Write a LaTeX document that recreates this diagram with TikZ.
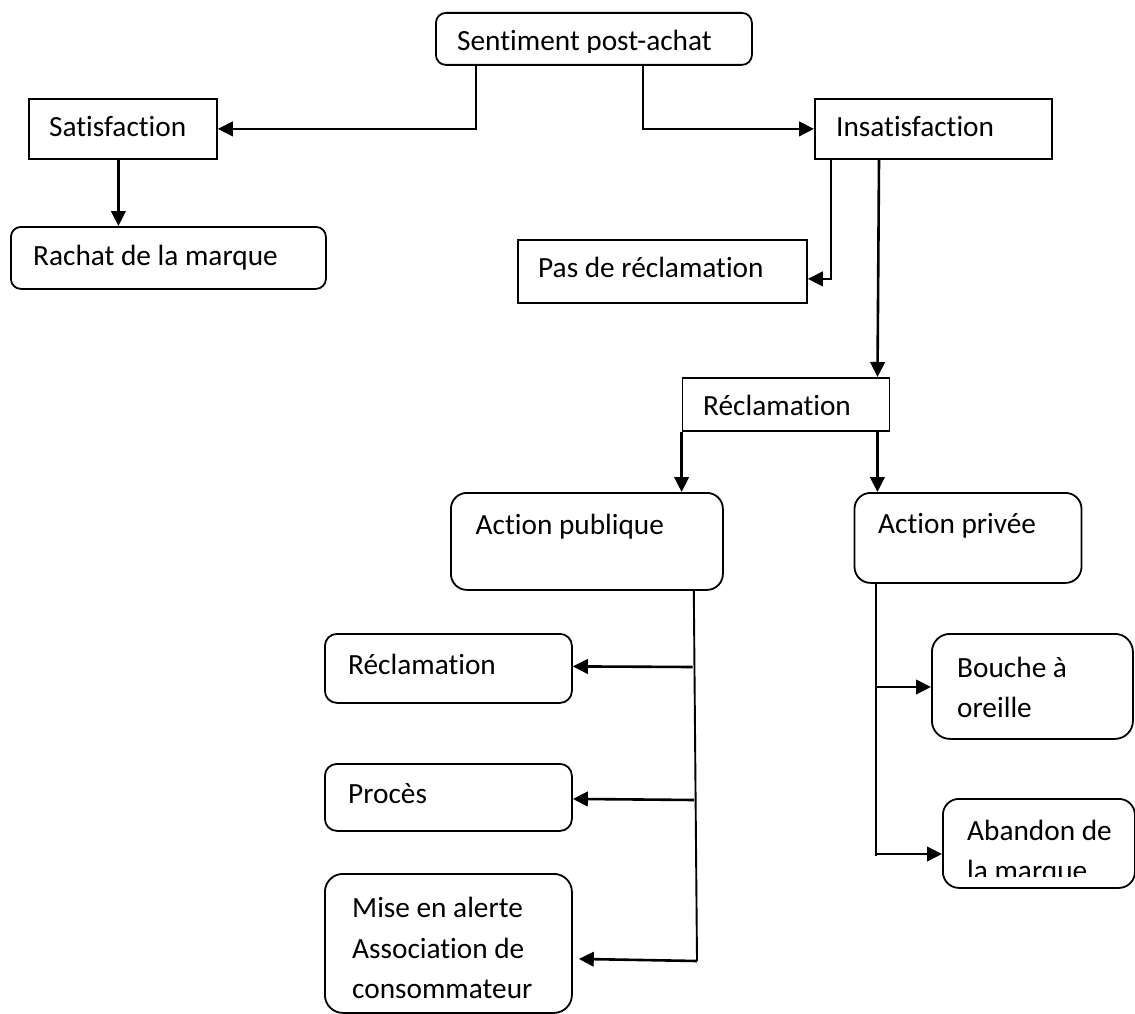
\documentclass[tikz,border=0pt]{standalone}
\usepackage{fontspec}
\setmainfont{Carlito}[Ligatures=NoCommon]
\usetikzlibrary{arrows.meta}
\tikzset{
  boxbase/.style={draw=black, line width=1.8pt, inner sep=0pt, anchor=north west, fill=white},
  sqbox/.style={boxbase},
  rbox/.style={boxbase, rounded corners=#1},
  lbl/.style={inner sep=0pt, anchor=base west, font=\fontsize{29.3}{40}\selectfont},
  arr/.style={draw=black, line width=2.6pt, -{Triangle[length=15pt,width=14.5pt]}},
  trunk/.style={draw=black, line width=1.9pt}
}
\begin{document}
\begin{tikzpicture}[x=1pt,y=-1pt]
\useasboundingbox (0,0) rectangle (1135,1014);
\fill[white] (0,0) rectangle (1135,1014);

% boxes
\node[rbox=10pt, minimum width=316pt, minimum height=52pt] (sent) at (435,12) {};
\node[sqbox, minimum width=188pt, minimum height=60pt] (sat) at (28,98) {};
\node[rbox=10pt, minimum width=315pt, minimum height=62pt] (rachat) at (10,226) {};
\node[sqbox, minimum width=237pt, minimum height=60pt] (ins) at (814,98) {};
\node[sqbox, minimum width=289pt, minimum height=63pt] (pas) at (517,239) {};
\node[sqbox, minimum width=207pt, minimum height=53pt] (recl) at (681.6,377) {};
\node[rbox=16pt, minimum width=272pt, minimum height=97pt] (apub) at (450,492) {};
\node[rbox=16pt, minimum width=227pt, minimum height=90pt] (apriv) at (853.6,492) {};
\node[rbox=12pt, minimum width=247pt, minimum height=69pt] (rtwo) at (324,633) {};
\node[rbox=12pt, minimum width=247pt, minimum height=67pt] (proc) at (324,763) {};
\node[rbox=18pt, minimum width=247pt, minimum height=139pt] (mise) at (324,873) {};
\node[rbox=18pt, minimum width=201pt, minimum height=105pt] (bouche) at (931,633) {};
\node[rbox=16pt, minimum width=192pt, minimum height=89pt] (aband) at (942,798) {};

% texts
\begin{scope}
\clip (435,12) rectangle (751,52.5);
\node[lbl] (sentT) at (457,51) {Sentiment post-achat};
\end{scope}
\node[lbl] (satT) at (49,137) {Satisfaction};
\node[lbl] (rachatT) at (33,265) {Rachat de la marque};
\node[lbl] (insT) at (836,136) {Insatisfaction};
\node[lbl] (pasT) at (538,277) {Pas de réclamation};
\node[lbl] (reclT) at (703,415) {Réclamation};
\node[lbl] (apubT) at (475.5,534) {Action publique};
\node[lbl] (aprivT) at (878,533) {Action privée};
\node[lbl] (rtwoT) at (348,674) {Réclamation};
\node[lbl] (procT) at (348,803) {Procès};
\node[lbl] (miseA) at (352,917) {Mise en alerte};
\node[lbl] (miseB) at (352,958) {Association de};
\node[lbl] (miseC) at (352,998) {consommateur};
\node[lbl] (boucheA) at (957,677) {Bouche à};
\node[lbl] (boucheB) at (957,717) {oreille};
\node[lbl] (abandA) at (967,840) {Abandon de};
\begin{scope}
\clip (942,798) rectangle (1135,876);
\node[lbl] (abandB) at (967,880) {la marque};
\end{scope}

% connectors
\draw[arr] ([xshift=41pt]sent.south west) |- (sat.east);
\draw[arr] ([xshift=-110pt]sent.south east) |- (ins.west);
\draw[arr] ([xshift=-4.5pt]sat.south) -- ([xshift=-4.5pt]sat.south |- rachat.north);
\draw[arr] ([xshift=17pt]ins.south west) |- ([yshift=-7.5pt]pas.east);
\draw[arr] ([xshift=65pt]ins.south west) -- ([xshift=91.5pt]recl.north);
\draw[arr] (recl.south west) -- (recl.south west |- apub.north);
\draw[arr] ([xshift=-13pt]recl.south east) -- ([xshift=-13pt]recl.south east |- apriv.north);

% public trunk
\coordinate (pb1) at (692.5,667);
\coordinate (pb2) at (694,800);
\coordinate (pb3) at (697,961);
\draw[trunk] ([xshift=-30pt]apub.south east) -- (pb3);
\draw[arr] (pb1) -- ([yshift=2pt]rtwo.east);
\draw[arr] (pb2) -- ([yshift=-1.5pt]proc.east);
\draw[arr] (pb3) -- ([xshift=6pt,yshift=-15.5pt]mise.east);

% private trunk
\coordinate (qb1) at (875.6,687);
\coordinate (qb2) at (875.6,854);
\coordinate (qend) at (875.6,856);
\draw[trunk] ([xshift=22pt]apriv.south west) -- (qend);
\draw[arr] (qb1) -- (bouche.west |- qb1);
\draw[arr] (qb2) -- (aband.west |- qb2);
\end{tikzpicture}
\end{document}
